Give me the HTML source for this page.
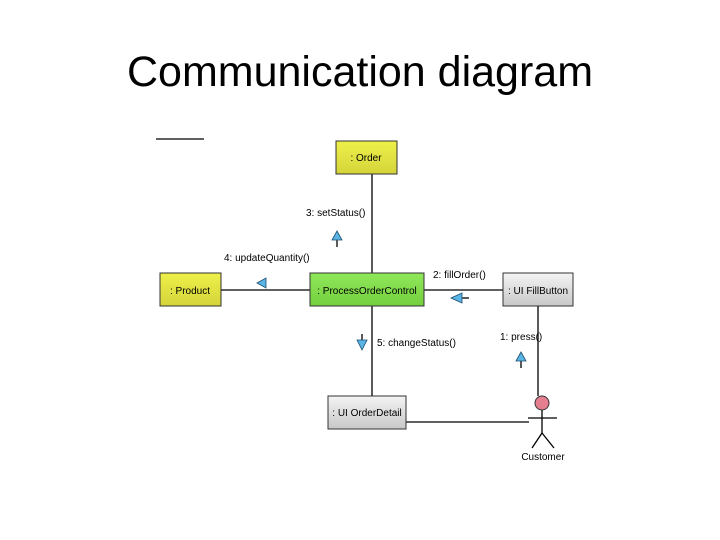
<!DOCTYPE html>
<html><head><meta charset="utf-8"><style>
html,body{margin:0;padding:0;background:#fff;}
body{width:720px;height:540px;overflow:hidden;position:relative;font-family:"Liberation Sans",sans-serif;}
</style></head><body>
<svg width="720" height="540" xmlns="http://www.w3.org/2000/svg" style="position:absolute;left:0;top:0">
<defs>
<linearGradient id="y" x1="0" y1="0" x2="0" y2="1"><stop offset="0" stop-color="#eef04a"/><stop offset="1" stop-color="#d4d43a"/></linearGradient>
<linearGradient id="g" x1="0" y1="0" x2="0" y2="1"><stop offset="0" stop-color="#8fe85a"/><stop offset="1" stop-color="#74cf3e"/></linearGradient>
<linearGradient id="s" x1="0" y1="0" x2="0" y2="1"><stop offset="0" stop-color="#f4f4f4"/><stop offset="1" stop-color="#c8c8c8"/></linearGradient>
</defs>
<text x="360" y="86" font-size="43" text-anchor="middle" font-family="Liberation Sans" fill="#000">Communication diagram</text>
<g stroke="#000" stroke-width="1.3" fill="none">
<line x1="156" y1="139" x2="204" y2="139"/>
<line x1="372" y1="174" x2="372" y2="273"/>
<line x1="372" y1="306" x2="372" y2="396"/>
<line x1="221" y1="290" x2="310" y2="290"/>
<line x1="424" y1="290" x2="503" y2="290"/>
<line x1="538" y1="306" x2="538" y2="396"/>
<line x1="406" y1="422" x2="529" y2="422"/>
<line x1="542" y1="410" x2="542" y2="433"/>
<line x1="528" y1="418" x2="557" y2="418"/>
<line x1="542" y1="433" x2="532" y2="448"/>
<line x1="542" y1="433" x2="554" y2="448"/>
<line x1="337" y1="240" x2="337" y2="247"/>
<line x1="462" y1="298" x2="469" y2="298"/>
<line x1="362" y1="334" x2="362" y2="340"/>
<line x1="521" y1="361" x2="521" y2="368"/>
</g>
<g stroke="#333" stroke-width="1">
<rect x="336" y="141" width="61" height="33" fill="url(#y)"/>
<rect x="160" y="273" width="61" height="33" fill="url(#y)"/>
<rect x="310" y="273" width="114" height="33" fill="url(#g)"/>
<rect x="503" y="273" width="70" height="33" fill="url(#s)"/>
<rect x="328" y="396" width="78" height="33" fill="url(#s)"/>
<circle cx="542" cy="403" r="7" fill="#e57f8f"/>
</g>
<g fill="#5ab4e4" stroke="#1b4e6e" stroke-width="0.8">
<polygon points="337,231 332,240 342,240"/>
<polygon points="257,283 266,278 266,288"/>
<polygon points="451,298 462,293 462,303"/>
<polygon points="362,350 357,340 367,340"/>
<polygon points="521,352 516,361 526,361"/>
</g>
<g font-size="10" font-family="Liberation Sans" fill="#000">
<text x="366" y="161" text-anchor="middle">: Order</text>
<text x="190" y="294" text-anchor="middle">: Product</text>
<text x="367" y="294" text-anchor="middle">: ProcessOrderControl</text>
<text x="538" y="294" text-anchor="middle">: UI FillButton</text>
<text x="367" y="416" text-anchor="middle">: UI OrderDetail</text>
<text x="306" y="216">3: setStatus()</text>
<text x="224" y="261">4: updateQuantity()</text>
<text x="433" y="278">2: fillOrder()</text>
<text x="377" y="346">5: changeStatus()</text>
<text x="500" y="340">1: press()</text>
<text x="543" y="460" text-anchor="middle">Customer</text>
</g>
</svg>
</body></html>
